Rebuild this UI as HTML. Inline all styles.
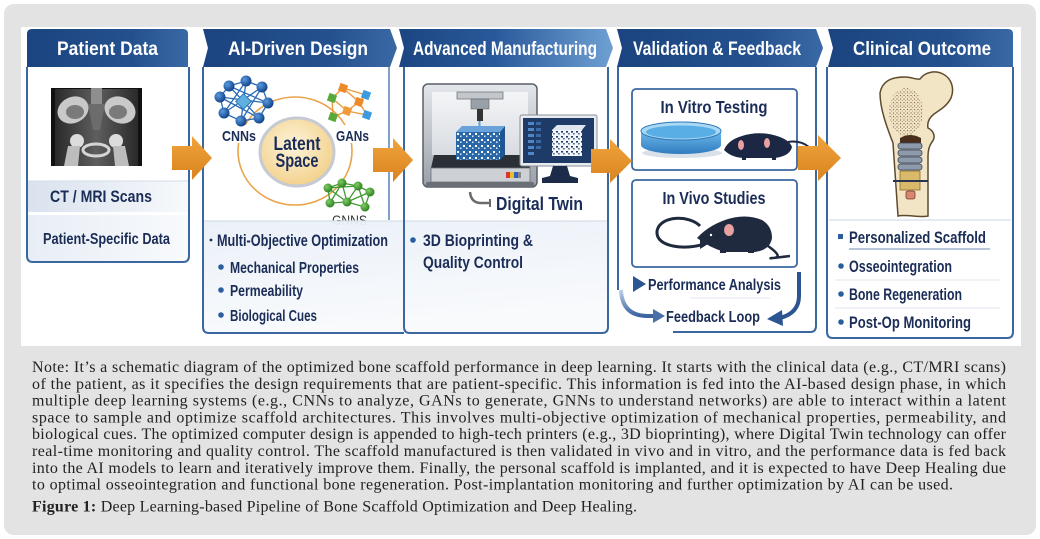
<!DOCTYPE html>
<html><head><meta charset="utf-8">
<style>
html,body{margin:0;padding:0;background:#fff;}
body{width:1040px;height:539px;position:relative;overflow:hidden;}
svg{position:absolute;left:0;top:0;}
.h{font-family:"Liberation Sans",sans-serif;font-weight:bold;fill:#fff;font-size:19px;}
.t{font-family:"Liberation Sans",sans-serif;font-weight:bold;fill:#1b2d57;}
.n{font-family:"Liberation Serif",serif;font-size:16px;fill:#222;}
</style></head><body>
<svg width="1040" height="539" viewBox="0 0 1040 539">
<defs>
<linearGradient id="hdr" x1="0" y1="0" x2="1" y2="0"><stop offset="0" stop-color="#1b4480"/><stop offset="0.65" stop-color="#24518e"/><stop offset="1" stop-color="#3969a5"/></linearGradient>
<linearGradient id="hdr3" x1="0" y1="0" x2="1" y2="0"><stop offset="0" stop-color="#1c4682"/><stop offset="0.45" stop-color="#29599a"/><stop offset="1" stop-color="#6fa0d3"/></linearGradient>
<linearGradient id="org" x1="0" y1="0" x2="0" y2="1"><stop offset="0" stop-color="#f0a43c"/><stop offset="1" stop-color="#d9831f"/></linearGradient>
<linearGradient id="band1" x1="0" y1="0" x2="1" y2="0"><stop offset="0" stop-color="#d9e2ee"/><stop offset="1" stop-color="#f7f9fc"/></linearGradient>
<linearGradient id="band2" x1="0" y1="0" x2="1" y2="0"><stop offset="0" stop-color="#e8eef6"/><stop offset="1" stop-color="#f8fafc"/></linearGradient>
<linearGradient id="pnl" x1="0" y1="0" x2="0.3" y2="1"><stop offset="0" stop-color="#eaf0f8"/><stop offset="1" stop-color="#f8fafc"/></linearGradient>
<radialGradient id="lat" cx="0.45" cy="0.4" r="0.65"><stop offset="0" stop-color="#fdf4db"/><stop offset="1" stop-color="#f2cf86"/></radialGradient>
<radialGradient id="bnode" cx="0.35" cy="0.35" r="0.7"><stop offset="0" stop-color="#5a9be0"/><stop offset="1" stop-color="#0f3f86"/></radialGradient>
<radialGradient id="gnode" cx="0.35" cy="0.35" r="0.7"><stop offset="0" stop-color="#7fcc64"/><stop offset="1" stop-color="#2a7f1f"/></radialGradient>
<linearGradient id="barr" x1="0" y1="0" x2="1" y2="0"><stop offset="0" stop-color="#c0d1e7"/><stop offset="1" stop-color="#2c5593"/></linearGradient>
<linearGradient id="barr2" x1="0" y1="0" x2="0" y2="1"><stop offset="0" stop-color="#c0d1e7"/><stop offset="1" stop-color="#3a63a0"/></linearGradient>
<linearGradient id="prn" x1="0" y1="0" x2="0" y2="1"><stop offset="0" stop-color="#e4e7eb"/><stop offset="1" stop-color="#9aa0a8"/></linearGradient>
<linearGradient id="inner" x1="0" y1="0" x2="0" y2="1"><stop offset="0" stop-color="#f4f5f7"/><stop offset="1" stop-color="#d8dce1"/></linearGradient>
<linearGradient id="dish" x1="0" y1="0" x2="0" y2="1"><stop offset="0" stop-color="#6fb9ea"/><stop offset="1" stop-color="#2f7cc0"/></linearGradient>
<linearGradient id="ctbg" x1="0" y1="0" x2="1" y2="0"><stop offset="0" stop-color="#2a2a2a"/><stop offset="0.5" stop-color="#5e5e5e"/><stop offset="1" stop-color="#2a2a2a"/></linearGradient>
<pattern id="scf" width="6" height="6" patternUnits="userSpaceOnUse"><rect width="6" height="6" fill="#2a68a8"/><rect x="1" y="1" width="2" height="2" fill="#fff"/><rect x="4" y="3.5" width="1.5" height="1.5" fill="#dce9f6"/></pattern>
<pattern id="scf2" width="5" height="5" patternUnits="userSpaceOnUse"><rect width="5" height="5" fill="#f2f5f9"/><rect x="1" y="1" width="2" height="1.6" fill="#1e3b68"/><rect x="3.2" y="3" width="1.4" height="1.5" fill="#34507a"/></pattern>
<pattern id="dots" width="3.5" height="3.5" patternUnits="userSpaceOnUse"><circle cx="1" cy="1" r="0.65" fill="#6e5638"/><circle cx="2.7" cy="2.5" r="0.55" fill="#8c7250"/></pattern>
</defs>

<rect x="4" y="4" width="1032" height="531" rx="10" fill="#e3e3e3"/>
<rect x="21" y="27" width="1000" height="319" fill="#fff"/>

<!-- ===== Column 1 ===== -->
<path d="M27,67 V256 Q27,262 33,262 H183 Q189,262 189,256 V67 Z" fill="#fff"/>
<rect x="28" y="181" width="160" height="31" fill="url(#band1)"/>
<rect x="28" y="215" width="160" height="46" fill="url(#band2)"/>
<line x1="28" y1="181" x2="188" y2="181" stroke="#d3dce8" stroke-width="1"/>
<path d="M27,67 V256 Q27,262 33,262 H183 Q189,262 189,256 V67" fill="none" stroke="#3b67a1" stroke-width="2"/>
<path d="M27,67 V34 Q27,29 32,29 H183 Q188,29 188,34 V67 Z" fill="url(#hdr)"/>
<text class="h" x="107.5" y="55" text-anchor="middle" textLength="101" lengthAdjust="spacingAndGlyphs">Patient Data</text>
<rect x="51" y="88" width="91" height="78" fill="#111"/>
<rect x="55" y="89" width="83" height="77" fill="url(#ctbg)"/>
<rect x="91" y="88" width="11" height="16" fill="#8e8e8e"/>
<ellipse cx="73" cy="110" rx="16" ry="13" transform="rotate(-25 73 110)" fill="#c9c9c9"/>
<ellipse cx="120" cy="110" rx="16" ry="13" transform="rotate(25 120 110)" fill="#c9c9c9"/>
<ellipse cx="75" cy="112" rx="9" ry="7" fill="#7a7a7a"/>
<ellipse cx="118" cy="112" rx="9" ry="7" fill="#7a7a7a"/>
<path d="M88,104 L105,104 L100,130 L93,130 Z" fill="#6c6c6c"/>
<circle cx="77" cy="141" r="7" fill="#dcdcdc"/>
<circle cx="116" cy="141" r="7" fill="#dcdcdc"/>
<path d="M68,146 L80,146 L78,166 L64,166 Z" fill="#bdbdbd"/>
<path d="M113,146 L125,146 L129,166 L115,166 Z" fill="#bdbdbd"/>
<ellipse cx="96" cy="150" rx="13" ry="6" fill="none" stroke="#d5d5d5" stroke-width="3"/>
<text class="t" x="101" y="202" font-size="17" text-anchor="middle" textLength="102" lengthAdjust="spacingAndGlyphs">CT / MRI Scans</text>
<text class="t" x="106.5" y="244" font-size="15.5" text-anchor="middle" textLength="127" lengthAdjust="spacingAndGlyphs">Patient-Specific Data</text>

<!-- ===== Column 2 ===== -->
<polygon points="203,29 390,29 397,48 390,67 203,67 208,48" fill="url(#hdr)"/>
<text class="h" x="298" y="55" text-anchor="middle" textLength="140" lengthAdjust="spacingAndGlyphs">AI-Driven Design</text>
<ellipse cx="295" cy="151" rx="57" ry="54" fill="none" stroke="#e9a34a" stroke-width="1.6"/>
<rect x="219" y="125" width="42" height="18" fill="#fff"/>
<rect x="332" y="125" width="42" height="18" fill="#fff"/>
<g stroke="#2a6bb8" stroke-width="1.3" fill="none">
<polygon points="229,86 246,81 262,87 268,103 259,118 241,121 224,113 220,97"/>
<path d="M229,86 L259,118 M246,81 L241,121 M262,87 L224,113 M268,103 L220,97 M229,86 L268,103 M220,97 L259,118 M246,81 L224,113 M262,87 L241,121"/>
</g>
<rect x="238" y="96" width="11" height="11" fill="#5fb0e0" stroke="#2a78b8" transform="rotate(45 243.5 101.5)"/>
<g fill="url(#bnode)">
<circle cx="229" cy="86" r="5.5"/><circle cx="246" cy="81" r="5.5"/><circle cx="262" cy="87" r="5.5"/><circle cx="268" cy="103" r="5.5"/>
<circle cx="259" cy="118" r="5.5"/><circle cx="241" cy="121" r="5.5"/><circle cx="224" cy="113" r="5.5"/><circle cx="220" cy="97" r="5.5"/>
</g>
<text class="t" x="239" y="141" font-size="15" text-anchor="middle" textLength="34" lengthAdjust="spacingAndGlyphs">CNNs</text>
<g stroke="#ec9a3a" stroke-width="1.4" fill="none">
<path d="M343,88 L332,98 M343,88 L359,102 M343,88 L366,95 M332,98 L347,111 M359,102 L347,111 M347,111 L333,117 M359,102 L367,115 M366,95 L359,102 M347,111 L367,115 M332,98 L333,117"/>
</g>
<rect x="339" y="84" width="8" height="8" fill="#ec8a2a" transform="rotate(20 343 88)"/>
<rect x="355" y="98" width="8" height="8" fill="#ec8a2a" transform="rotate(20 359 102)"/>
<rect x="343" y="107" width="8" height="8" fill="#f09a3a" transform="rotate(20 347 111)"/>
<rect x="328" y="94" width="8" height="8" fill="#58a83a" transform="rotate(20 332 98)"/>
<rect x="329" y="113" width="8" height="8" fill="#58a83a" transform="rotate(20 333 117)"/>
<rect x="362" y="91" width="8" height="8" fill="#3c9be0" transform="rotate(20 366 95)"/>
<rect x="363" y="111" width="8" height="8" fill="#3c9be0" transform="rotate(20 367 115)"/>
<text class="t" x="352.5" y="141" font-size="15" text-anchor="middle" textLength="33" lengthAdjust="spacingAndGlyphs">GANs</text>
<ellipse cx="297" cy="152" rx="37" ry="34" fill="url(#lat)" stroke="#c5cad3" stroke-width="3"/>
<text class="t" x="297" y="150" font-size="19" text-anchor="middle" textLength="47" lengthAdjust="spacingAndGlyphs">Latent</text>
<text class="t" x="297" y="167" font-size="19" text-anchor="middle" textLength="43" lengthAdjust="spacingAndGlyphs">Space</text>
<g stroke="#3f9a32" stroke-width="1.3" fill="none">
<path d="M328,188 L342,183 L358,186 L370,192 L365,207 L347,202 L330,203 Z M328,188 L347,202 M342,183 L330,203 M342,183 L347,202 M358,186 L347,202 M358,186 L365,207 M370,192 L347,202 M328,188 L358,186"/>
</g>
<g fill="url(#gnode)">
<circle cx="328" cy="188" r="4.5"/><circle cx="342" cy="183" r="4.5"/><circle cx="358" cy="186" r="4.5"/><circle cx="370" cy="192" r="4.5"/>
<circle cx="330" cy="203" r="4.5"/><circle cx="347" cy="202" r="4.5"/><circle cx="365" cy="207" r="4.5"/>
</g>
<text x="349.5" y="225" font-family="Liberation Sans, sans-serif" font-size="13.5" fill="#333" text-anchor="middle" textLength="35" lengthAdjust="spacingAndGlyphs">GNNS</text>
<rect x="204" y="221" width="403" height="111" fill="url(#pnl)" opacity="0.95"/>
<line x1="204" y1="221" x2="607" y2="221" stroke="#d6dfeb" stroke-width="1.2"/>
<line x1="389" y1="67" x2="389" y2="220" stroke="#5a82b5" stroke-width="1.5"/>
<path d="M203,67 V327 Q203,333 209,333 H404" fill="none" stroke="#3b67a1" stroke-width="2"/>
<circle cx="211" cy="240" r="1.4" fill="#1b2d57"/>
<text class="t" x="217" y="246" font-size="16.5" textLength="171" lengthAdjust="spacingAndGlyphs">Multi-Objective Optimization</text>
<circle cx="221" cy="267" r="2.8" fill="#2b5e9c"/>
<text class="t" x="230" y="273" font-size="16" textLength="129" lengthAdjust="spacingAndGlyphs">Mechanical Properties</text>
<circle cx="221" cy="290" r="2.8" fill="#2b5e9c"/>
<text class="t" x="230" y="296" font-size="16" textLength="73" lengthAdjust="spacingAndGlyphs">Permeability</text>
<circle cx="221" cy="315" r="2.8" fill="#2b5e9c"/>
<text class="t" x="230" y="321" font-size="16" textLength="87" lengthAdjust="spacingAndGlyphs">Biological Cues</text>

<!-- ===== Column 3 ===== -->
<polygon points="399,29 606,29 613,48 606,67 399,67 404,48" fill="url(#hdr3)"/>
<text class="h" x="505" y="55" text-anchor="middle" textLength="184" lengthAdjust="spacingAndGlyphs">Advanced Manufacturing</text>
<path d="M404,67 V327 Q404,333 410,333 H602 Q608,333 608,327 V67" fill="none" stroke="#3b67a1" stroke-width="2"/>
<rect x="423" y="84" width="114" height="103" rx="5" fill="url(#prn)" stroke="#5a5f66" stroke-width="1.5"/>
<rect x="432" y="92" width="96" height="63" fill="url(#inner)"/>
<rect x="457" y="92" width="46" height="7" fill="#c2c7cd" stroke="#777" stroke-width="0.8"/>
<rect x="471" y="99" width="18" height="10" fill="#9aa0a8" stroke="#666" stroke-width="0.6"/>
<rect x="477" y="109" width="6" height="12" fill="#333"/>
<rect x="478.5" y="121" width="2" height="9" fill="#5fa0d8"/>
<polygon points="434,155 527,155 530,168 431,168" fill="#2b2f36"/>
<polygon points="456,132 462,126 505,126 500,132" fill="#6aa3dc"/>
<polygon points="500,132 505,126 505,155 500,160" fill="#1f5590"/>
<rect x="456" y="132" width="44" height="28" fill="url(#scf)"/>
<rect x="431" y="168" width="99" height="14" fill="#cdd1d6" stroke="#6a6f75" stroke-width="0.8"/>
<rect x="506" y="172" width="4" height="6" fill="#d33"/><rect x="510" y="172" width="4" height="6" fill="#e8c020"/><rect x="514" y="172" width="4" height="6" fill="#3060c0"/><rect x="518" y="172" width="3" height="6" fill="#888"/>
<rect x="426" y="182" width="108" height="5" rx="2" fill="#6a6f76"/>
<rect x="520" y="115" width="77" height="51" rx="2" fill="#e8ebef" stroke="#8a9099" stroke-width="1"/>
<rect x="523" y="118" width="71" height="45" fill="#1e3b68"/>
<g fill="#4f86c6">
<rect x="528" y="122" width="6" height="3"/><rect x="528" y="128" width="6" height="3"/><rect x="528" y="134" width="6" height="3"/><rect x="528" y="140" width="6" height="3"/><rect x="528" y="146" width="6" height="3"/><rect x="528" y="152" width="6" height="3"/>
</g>
<g fill="#3a6aa8">
<rect x="536" y="122" width="5" height="3"/><rect x="536" y="128" width="5" height="3"/><rect x="536" y="134" width="5" height="3"/><rect x="536" y="140" width="5" height="3"/><rect x="536" y="146" width="5" height="3"/>
</g>
<polygon points="552,130 557,125 586,125 582,130" fill="#dfe6ef"/>
<rect x="552" y="130" width="30" height="26" fill="url(#scf2)"/>
<polygon points="553,166 567,166 570,176 578,178 578,183 542,183 542,178 550,176" fill="#1c2b47"/>
<path d="M470,192 Q471,203 481,203 H490" fill="none" stroke="#6b6b6b" stroke-width="2.5"/>
<line x1="490" y1="199" x2="490" y2="207" stroke="#6b6b6b" stroke-width="2"/>
<text class="t" x="496" y="210" font-size="18" textLength="87" lengthAdjust="spacingAndGlyphs">Digital Twin</text>
<circle cx="413" cy="240" r="2.8" fill="#2b5e9c"/>
<text class="t" x="423" y="246" font-size="17" textLength="110" lengthAdjust="spacingAndGlyphs">3D Bioprinting &amp;</text>
<text class="t" x="423" y="268" font-size="17" textLength="100" lengthAdjust="spacingAndGlyphs">Quality Control</text>

<!-- ===== Column 4 ===== -->
<polygon points="617,29 816,29 823,48 816,67 617,67 622,48" fill="url(#hdr)"/>
<text class="h" x="717" y="55" text-anchor="middle" textLength="168" lengthAdjust="spacingAndGlyphs">Validation &amp; Feedback</text>
<line x1="618" y1="67" x2="618" y2="290" stroke="#3b67a1" stroke-width="2"/>
<path d="M816,67 V326 Q816,332 810,332 H673" fill="none" stroke="#3b67a1" stroke-width="2"/>
<rect x="632" y="89" width="165" height="81" rx="4" fill="#fff" stroke="#3b67a1" stroke-width="1.8"/>
<text class="t" x="714" y="113" font-size="17.5" text-anchor="middle" textLength="107" lengthAdjust="spacingAndGlyphs">In Vitro Testing</text>
<ellipse cx="682" cy="153" rx="40" ry="5" fill="#c9d3de" opacity="0.7"/>
<path d="M641,131 V145 A40,9 0 0 0 721,145 V131 Z" fill="url(#dish)"/>
<ellipse cx="681" cy="131" rx="40" ry="9" fill="#a9d7f4" stroke="#2f78b8" stroke-width="1"/>
<ellipse cx="681" cy="132" rx="35" ry="6.5" fill="#5aaee6"/>
<path d="M724,150 Q728,140 742,136 Q760,130 780,137 Q790,141 792,147 Q790,156 775,158 L745,158 Q732,158 724,150 Z" fill="#1c2744"/>
<path d="M788,142 Q800,140 809,147" fill="none" stroke="#1c2744" stroke-width="2"/>
<ellipse cx="741" cy="145" rx="3" ry="5" fill="#e8a0a0"/>
<ellipse cx="767" cy="143" rx="3" ry="5" fill="#e8a0a0"/>
<rect x="742" y="156" width="4" height="4" fill="#1c2744"/><rect x="772" y="156" width="4" height="4" fill="#1c2744"/>
<rect x="632" y="180" width="165" height="87" rx="4" fill="#fff" stroke="#3b67a1" stroke-width="1.8"/>
<text class="t" x="714" y="204" font-size="17.5" text-anchor="middle" textLength="103" lengthAdjust="spacingAndGlyphs">In Vivo Studies</text>
<path d="M700,226 C690,215 660,215 657,231 C655,248 688,250 704,244" fill="none" stroke="#1f2a3e" stroke-width="3"/>
<polygon points="700,239 708,244 700,249" fill="#1f2a3e"/>
<path d="M697,238 Q708,226 725,220 Q745,213 762,220 Q772,226 772,238 Q770,250 755,252 L725,252 Q710,248 697,238 Z" fill="#1f2a3e"/>
<path d="M768,246 Q785,258 772,258 Q765,259 790,256" fill="none" stroke="#1f2a3e" stroke-width="2.5"/>
<ellipse cx="729" cy="230" rx="5" ry="6" fill="#e8a0a0"/>
<circle cx="711" cy="235" r="1.2" fill="#fff"/>
<rect x="720" y="250" width="6" height="3" fill="#1f2a3e"/><rect x="748" y="250" width="6" height="3" fill="#1f2a3e"/>
<line x1="608" y1="284" x2="636" y2="284" stroke="url(#barr)" stroke-width="5"/>
<polygon points="633,276 646,284 633,292" fill="#2c5593"/>
<text class="t" x="648" y="290" font-size="16" textLength="133" lengthAdjust="spacingAndGlyphs">Performance Analysis</text>
<line x1="690" y1="298" x2="770" y2="298" stroke="#e1e7ef" stroke-width="1"/>
<path d="M621,290 Q622,316 648,316 H655" fill="none" stroke="url(#barr2)" stroke-width="4"/>
<polygon points="653,309 665,316 653,323" fill="#4a70a8"/>
<text class="t" x="666" y="322" font-size="16" textLength="94" lengthAdjust="spacingAndGlyphs">Feedback Loop</text>
<path d="M799,272 V296 Q799,313 780,318" fill="none" stroke="#2c5592" stroke-width="4"/>
<polygon points="782,310 767,319 783,326" fill="#2c5592"/>

<!-- ===== Column 5 ===== -->
<path d="M828,29 H1008 Q1013,29 1013,34 V67 H828 L833,48 Z" fill="url(#hdr)"/>
<text class="h" x="922" y="55" text-anchor="middle" textLength="138" lengthAdjust="spacingAndGlyphs">Clinical Outcome</text>
<path d="M827,67 V332 Q827,338 833,338 H1007 Q1013,338 1013,332 V67" fill="none" stroke="#3b67a1" stroke-width="2"/>
<path d="M898,216 L893,143 C888,130 880,110 880,93 C882,82 890,77 905,77 C912,77 916,80 920,79 C925,72 935,70 943,74 C951,78 955,88 951,98 C947,106 940,110 934,114 C929,118 927,123 928,128 C934,131 936,137 932,142 C929,146 928,150 928,156 L928,216 C920,218 906,214 898,216 Z" fill="#f2e5c6" stroke="#5e4b2f" stroke-width="1.5"/>
<ellipse cx="906" cy="112" rx="17" ry="24" fill="url(#dots)" opacity="0.85"/>
<path d="M900,143 V138 Q910,132 921,138 V143 Z" fill="#4a2e1c"/>
<g fill="#8d9aab" stroke="#3a4558" stroke-width="0.8">
<rect x="898" y="143" width="24" height="6" rx="2.5"/><rect x="898" y="150" width="24" height="6" rx="2.5"/><rect x="898" y="157" width="24" height="6" rx="2.5"/><rect x="898" y="164" width="24" height="6" rx="2.5"/>
</g>
<rect x="900" y="171" width="20" height="19" fill="#d9b96a" stroke="#8a6a2a" stroke-width="0.8"/>
<line x1="893" y1="181" x2="928" y2="181" stroke="#2a3550" stroke-width="2"/>
<rect x="906" y="191" width="9" height="8" rx="2" fill="#d98870" stroke="#7a3a2a" stroke-width="0.8"/>
<line x1="829" y1="220" x2="1011" y2="220" stroke="#d5deea" stroke-width="1.2"/>
<rect x="838" y="234" width="5" height="5" fill="#2b5e9c"/>
<text class="t" x="849" y="243" font-size="17" textLength="137" lengthAdjust="spacingAndGlyphs">Personalized Scaffold</text>
<line x1="849" y1="249" x2="990" y2="249" stroke="#9fb4cf" stroke-width="1.5"/>
<circle cx="841" cy="266" r="2.8" fill="#2b5e9c"/>
<text class="t" x="849" y="272" font-size="17" textLength="103" lengthAdjust="spacingAndGlyphs">Osseointegration</text>
<line x1="835" y1="280" x2="1000" y2="280" stroke="#dfe5ee" stroke-width="1"/>
<circle cx="841" cy="294" r="2.8" fill="#2b5e9c"/>
<text class="t" x="849" y="300" font-size="17" textLength="113" lengthAdjust="spacingAndGlyphs">Bone Regeneration</text>
<line x1="835" y1="308" x2="1000" y2="308" stroke="#dfe5ee" stroke-width="1"/>
<circle cx="841" cy="322" r="2.8" fill="#2b5e9c"/>
<text class="t" x="849" y="328" font-size="17" textLength="122" lengthAdjust="spacingAndGlyphs">Post-Op Monitoring</text>

<g fill="url(#org)">
<polygon points="172,146 192,146 192,136 212,158 192,180 192,170 172,170"/>
<polygon points="373,148 393,148 393,138 413,160 393,182 393,172 373,172"/>
<polygon points="591,149 610,149 610,139 632,161 610,183 610,173 591,173"/>
<polygon points="798,146 818,146 818,135 841,158 818,181 818,170 798,170"/>
</g>

<text class="n" x="32" y="372" textLength="974" lengthAdjust="spacing">Note: It’s a schematic diagram of the optimized bone scaffold performance in deep learning. It starts with the clinical data (e.g., CT/MRI scans)</text>
<text class="n" x="32" y="388.8" textLength="974" lengthAdjust="spacing">of the patient, as it specifies the design requirements that are patient-specific. This information is fed into the AI-based design phase, in which</text>
<text class="n" x="32" y="405.6" textLength="974" lengthAdjust="spacing">multiple deep learning systems (e.g., CNNs to analyze, GANs to generate, GNNs to understand networks) are able to interact within a latent</text>
<text class="n" x="32" y="422.4" textLength="974" lengthAdjust="spacing">space to sample and optimize scaffold architectures. This involves multi-objective optimization of mechanical properties, permeability, and</text>
<text class="n" x="32" y="439.2" textLength="974" lengthAdjust="spacing">biological cues. The optimized computer design is appended to high-tech printers (e.g., 3D bioprinting), where Digital Twin technology can offer</text>
<text class="n" x="32" y="456" textLength="974" lengthAdjust="spacing">real-time monitoring and quality control. The scaffold manufactured is then validated in vivo and in vitro, and the performance data is fed back</text>
<text class="n" x="32" y="472.8" textLength="974" lengthAdjust="spacing">into the AI models to learn and iteratively improve them. Finally, the personal scaffold is implanted, and it is expected to have Deep Healing due</text>
<text class="n" x="32" y="489.6" textLength="921" lengthAdjust="spacing">to optimal osseointegration and functional bone regeneration. Post-implantation monitoring and further optimization by AI can be used.</text>
<text class="n" x="32" y="511.5" textLength="605" lengthAdjust="spacing"><tspan font-weight="bold">Figure 1:</tspan> Deep Learning-based Pipeline of Bone Scaffold Optimization and Deep Healing.</text>
</svg>
</body></html>
